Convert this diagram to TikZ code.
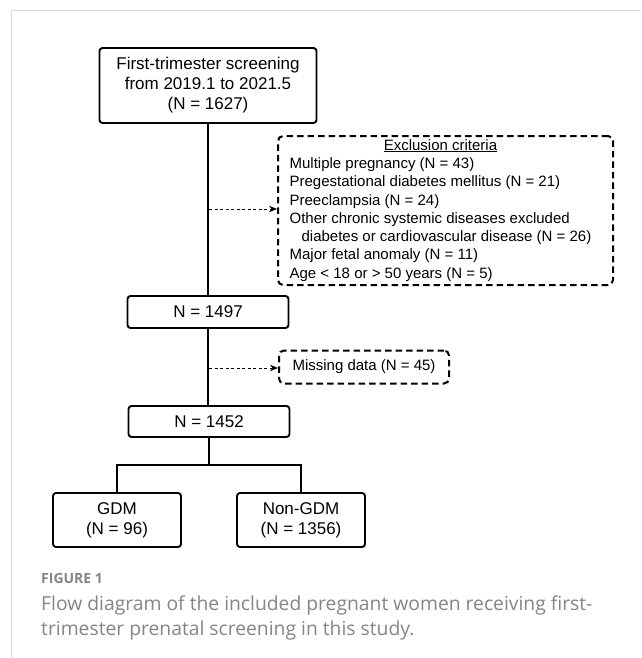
\documentclass[tikz,border=0pt]{standalone}
\usepackage{fontspec}
\setmainfont{Liberation Sans}
\newfontfamily\capfont{Open Sans}
\usetikzlibrary{arrows.meta}
\definecolor{capgray}{HTML}{858585}
\definecolor{framegray}{HTML}{DCDCDC}
\begin{document}
\begin{tikzpicture}[x=1pt,y=-1pt,
  solidbox/.style={draw=black, line width=1.9pt, rounded corners=3pt, inner sep=0pt, align=center, font=\fontsize{17}{20}\selectfont},
  dashbox/.style={draw=black, line width=2pt, dash pattern=on 6.5pt off 4pt, rounded corners=5pt, inner sep=0pt, font=\fontsize{15}{18.3}\selectfont},
  link/.style={line width=1.8pt},
  dotarrow/.style={line width=1pt, dash pattern=on 3pt off 2.5pt, -{Stealth[length=8pt,width=6.5pt]}},
]
\useasboundingbox (0,0) rectangle (641,658);
\fill[white] (0,0) rectangle (641,658);
\draw[framegray, line width=1pt] (11,658) -- (11,11) -- (641,11);

\node[solidbox, minimum width=217pt, minimum height=75pt] (top) at (208,85.5) {First-trimester screening\\from 2019.1 to 2021.5\\(N = 1627)};
\node[solidbox, minimum width=161pt, minimum height=32pt] (n1497) at (208,312) {N = 1497};
\node[solidbox, minimum width=161pt, minimum height=31pt] (n1452) at (209,421.5) {N = 1452};
\node[solidbox, minimum width=128pt, minimum height=54pt] (gdm) at (117,520) {GDM\\(N = 96)};
\node[solidbox, minimum width=128pt, minimum height=54pt] (ngdm) at (301,520) {Non-GDM\\(N = 1356)};

\node[dashbox, minimum width=335pt, minimum height=149pt] (excl) at (445.5,210.5) {\begin{tabular}{@{}l@{}}
\multicolumn{1}{@{}c@{}}{\underline{Exclusion criteria}}\\
Multiple pregnancy (N = 43)\\
Pregestational diabetes mellitus (N = 21)\\
Preeclampsia (N = 24)\\
Other chronic systemic diseases excluded\\
\hspace*{12pt}diabetes or cardiovascular disease (N = 26)\\
Major fetal anomaly (N = 11)\\
Age < 18 or > 50 years (N = 5)
\end{tabular}\hspace*{10pt}};
\node[dashbox, minimum width=170pt, minimum height=33pt] (miss) at (364,367) {Missing data (N = 45)};

\draw[link] (top.south) -- (top.south |- n1497.north);
\draw[link] (n1497.south) -- (n1497.south |- n1452.north);
\coordinate (split) at (209,465);
\draw[link] (n1452.south) -- (n1452.south |- split);
\draw[link] (gdm.north) -- (gdm.north |- split) -- (ngdm.north |- split) -- (ngdm.north);

\coordinate (tap1) at (209,209);
\draw[dotarrow] (tap1) -- (tap1 -| excl.west);
\coordinate (tap2) at (209,368);
\draw[dotarrow] (tap2) -- (tap2 -| miss.west);

\node[anchor=base west, inner sep=0pt, text=capgray, font=\capfont\bfseries\fontsize{14}{16}\selectfont] (figlabel) at (41,583.5) {FIGURE 1};
\node[anchor=north west, inner sep=0pt, align=left, text=capgray, font=\capfont\fontsize{19.3}{25}\selectfont] (caption) at (41,596) {Flow diagram of the included pregnant women receiving first-\\trimester prenatal screening in this study.};
\end{tikzpicture}
\end{document}
